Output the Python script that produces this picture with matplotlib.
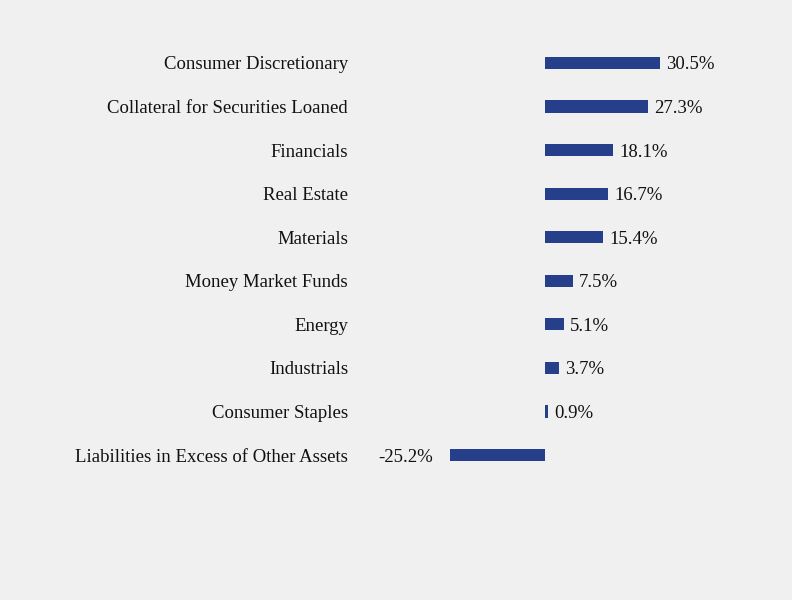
import matplotlib
matplotlib.use("Agg")
import matplotlib.pyplot as plt

categories = ["Consumer Discretionary", "Collateral for Securities Loaned", "Financials",
              "Real Estate", "Materials", "Money Market Funds", "Energy", "Industrials",
              "Consumer Staples", "Liabilities in Excess of Other Assets"]
values = [30.5, 27.3, 18.1, 16.7, 15.4, 7.5, 5.1, 3.7, 0.9, -25.2]
value_labels = ["30.5%", "27.3%", "18.1%", "16.7%", "15.4%", "7.5%", "5.1%", "3.7%", "0.9%", "-25.2%"]

bg = "#f0f0f0"
bar_color = "#253f8a"
plt.rcParams['font.family'] = ['Liberation Serif', 'DejaVu Serif']
fs = 13.5

fig = plt.figure(figsize=(7.92, 6.0), dpi=100, facecolor=bg)
W, H = 792, 600
left_px, right_px = 360, 760
zero_px, scale = 545, 3.77
xmin = (left_px - zero_px) / scale
xmax = (right_px - zero_px) / scale
top_px, bot_px = 41.2, 476.8
ax = fig.add_axes([left_px / W, 1 - bot_px / H, (right_px - left_px) / W, (bot_px - top_px) / H])
ax.set_facecolor(bg)

pos = list(range(len(categories)))
ax.barh(pos, values, height=0.28, color=bar_color)
ax.set_xlim(xmin, xmax)
ax.set_ylim(len(categories) - 0.5, -0.5)
ax.set_yticks(pos)
ax.set_yticklabels(categories, fontsize=fs, color="#111111")
ax.tick_params(axis='y', length=0, pad=8.6)
ax.set_xticks([])
for s in ax.spines.values():
    s.set_visible(False)

for p, v, lab in zip(pos, values, value_labels):
    if v >= 0:
        ax.annotate(lab, (v, p), xytext=(4.3, 0), textcoords='offset points',
                    ha='left', va='center_baseline', fontsize=fs, color="#111111")
    else:
        ax.annotate(lab, (v, p), xytext=(-12, 0), textcoords='offset points',
                    ha='right', va='center_baseline', fontsize=fs, color="#111111")

fig.savefig("out.png", dpi=100, facecolor=bg)
